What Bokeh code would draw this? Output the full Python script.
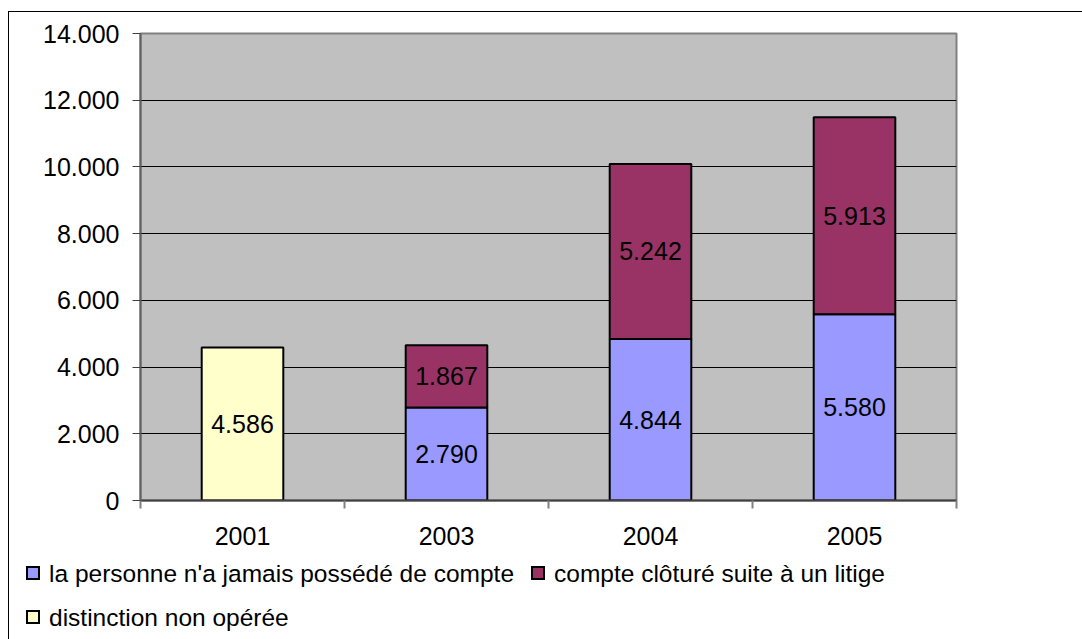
import numpy as np
from bokeh.plotting import figure
from bokeh.layouts import column
from bokeh.models import Range1d, FixedTicker, ColumnDataSource, Div
from bokeh.core.properties import value
from bokeh.embed import file_html
from bokeh.resources import INLINE

years = ["2001", "2003", "2004", "2005"]
jamais = [0, 2790, 4844, 5580]          # la personne n'a jamais possédé de compte
cloture = [0, 1867, 5242, 5913]         # compte clôturé suite à un litige
non_operee = [4586, 0, 0, 0]            # distinction non opérée
series_names = ["la personne n'a jamais possédé de compte",
                "compte clôturé suite à un litige",
                "distinction non opérée"]
y_ticks = [0, 2000, 4000, 6000, 8000, 10000, 12000, 14000]

FONT = "Liberation Sans"
FS = "25px"
LEG_FS = "24.5px"
C_BLUE, C_MAROON, C_YELLOW = "#9999FF", "#993366", "#FFFFCC"
series_colors = [C_BLUE, C_MAROON, C_YELLOW]


def fmt(v):
    return f"{v:,}".replace(",", ".")


centers = [i + 0.5 for i in range(len(years))]

p = figure(width=1073, height=544, x_range=Range1d(0, len(years)),
           y_range=Range1d(0, y_ticks[-1]), output_backend="svg",
           toolbar_location=None, title=None,
           min_border_left=131, min_border_right=126,
           min_border_top=21, min_border_bottom=56)
p.background_fill_color = "#C0C0C0"
p.border_fill_color = "white"
p.outline_line_color = "#808080"
p.outline_line_width = 2


def make_src(vals, bottoms):
    xs, b, t, mids, labels = [], [], [], [], []
    for i, v in enumerate(vals):
        if v > 0:
            xs.append(centers[i])
            b.append(bottoms[i])
            t.append(bottoms[i] + v)
            mids.append(bottoms[i] + v / 2)
            labels.append(fmt(v))
    return ColumnDataSource(dict(x=xs, bottom=b, top=t, mid=mids, label=labels))


zeros = [0] * len(years)
sources = [make_src(jamais, zeros), make_src(cloture, jamais), make_src(non_operee, zeros)]

for src, col in zip(sources, series_colors):
    p.vbar(x="x", bottom="bottom", top="top", width=0.4, source=src,
           fill_color=col, line_color="black", line_width=2)
    p.text(x="x", y="mid", text="label", source=src, text_font=value(FONT),
           text_font_size=FS, text_align="center", text_baseline="middle",
           text_color="black")

# axes
p.xaxis.ticker = FixedTicker(ticks=centers, minor_ticks=list(range(len(years) + 1)))
p.xaxis.major_label_overrides = {c: y for c, y in zip(centers, years)}
p.xaxis.major_tick_out = 0
p.xaxis.major_tick_in = 0
p.xaxis.minor_tick_out = 8
p.xaxis.minor_tick_in = 0
p.xaxis.minor_tick_line_color = "#808080"
p.xaxis.minor_tick_line_width = 2
p.xaxis.axis_line_color = "#404040"
p.xaxis.axis_line_width = 2
p.xaxis.major_label_standoff = 18

p.yaxis.ticker = FixedTicker(ticks=y_ticks)
p.yaxis.major_label_overrides = {t: fmt(t) for t in y_ticks}
p.yaxis.major_tick_out = 8
p.yaxis.major_tick_in = 0
p.yaxis.major_tick_line_color = "#404040"
p.yaxis.minor_tick_line_color = None
p.yaxis.axis_line_color = "#606060"
p.yaxis.axis_line_width = 2
p.yaxis.major_label_standoff = 13

for ax in (p.xaxis, p.yaxis):
    ax.major_label_text_font = FONT
    ax.major_label_text_font_size = FS
    ax.major_label_text_color = "black"

p.xgrid.grid_line_color = None
p.ygrid.ticker = FixedTicker(ticks=y_ticks)
p.ygrid.grid_line_color = "black"
p.ygrid.grid_line_width = 1

# legend strip below the chart (left, vertical centre) of each entry
item_pos = [(17, 17), (522, 17), (17, 61)]
items_html = ""
for (left, cy), name, col in zip(item_pos, series_names, series_colors):
    items_html += (
        f'<div style="position:absolute;left:{left}px;top:{cy - 15}px;height:30px;'
        f'display:flex;align-items:center;white-space:nowrap;">'
        f'<span style="display:inline-block;box-sizing:border-box;width:14px;height:14px;'
        f'border:2px solid #000;background:{col};margin-right:9px;"></span>'
        f'<span>{name}</span></div>'
    )
legend_html = (
    f'<div style="position:relative;width:1073px;height:83px;margin:0;padding:0;'
    f'font-family:\'{FONT}\';font-size:{LEG_FS};color:#000;">{items_html}</div>'
)
leg = Div(text=legend_html, width=1073, height=83, margin=0,
          styles={"margin": "0", "padding": "0"})

layout = column(p, leg, spacing=0,
                styles={"border-top": "1px solid black", "border-left": "1px solid black",
                        "margin-left": "8px", "margin-top": "11px"})

open("out.html", "w").write(file_html(layout, INLINE))
